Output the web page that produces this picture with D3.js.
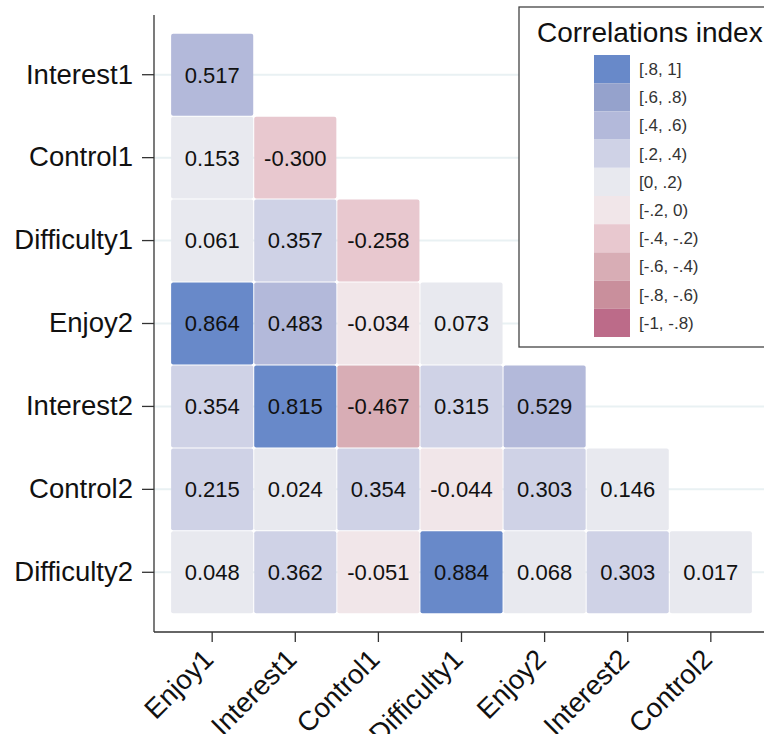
<!DOCTYPE html>
<html>
<head>
<meta charset="utf-8">
<script src="https://cdn.jsdelivr.net/npm/d3@7.9.0/dist/d3.min.js"></script>
<style>
  body { margin: 0; background: #fff; }
  svg { display: block; font-family: "Liberation Sans", Arial, sans-serif; }
</style>
</head>
<body>
<div id="chart"></div>
<script>
// variables on each axis
const rowNames = ["Interest1", "Control1", "Difficulty1", "Enjoy2", "Interest2", "Control2", "Difficulty2"];
const colNames = ["Enjoy1", "Interest1", "Control1", "Difficulty1", "Enjoy2", "Interest2", "Control2"];

// lower triangle, one list per row
const rowValues = [
  [0.517],
  [0.153, -0.300],
  [0.061, 0.357, -0.258],
  [0.864, 0.483, -0.034, 0.073],
  [0.354, 0.815, -0.467, 0.315, 0.529],
  [0.215, 0.024, 0.354, -0.044, 0.303, 0.146],
  [0.048, 0.362, -0.051, 0.884, 0.068, 0.303, 0.017]
];

// legend bins, top to bottom
const binLabels = ["[.8, 1]", "[.6, .8)", "[.4, .6)", "[.2, .4)", "[0, .2)",
                   "[-.2, 0)", "[-.4, -.2)", "[-.6, -.4)", "[-.8, -.6)", "[-1, -.8)"];
const binEdges = [-0.8, -0.6, -0.4, -0.2, 0, 0.2, 0.4, 0.6, 0.8];
const binColors = ["#bc6b89", "#c98f9c", "#d8adb5", "#e8c8cf", "#f1e6e9",
                   "#e8e9ef", "#cfd2e6", "#b3b9da", "#95a2cc", "#6889c9"];

const W = 764, H = 734;
const plotL = 154, plotT = 15, plotB = 632, plotR = 769;

const svg = d3.select("#chart").append("svg")
  .attr("width", W)
  .attr("height", H);

const x = d3.scaleBand()
  .domain(colNames.map((d, i) => i))
  .range([plotL, plotR])
  .paddingOuter(0.2)
  .paddingInner(0);

const y = d3.scaleBand()
  .domain(rowNames.map((d, i) => i))
  .range([plotT, plotB])
  .paddingOuter(0.22)
  .paddingInner(0);

const color = d3.scaleThreshold()
  .domain(binEdges)
  .range(binColors);

// flatten the triangle
const cells = [];
rowValues.forEach((vals, r) => {
  vals.forEach((v, c) => cells.push({ r, c, v }));
});

// faint horizontal gridlines
svg.append("g")
  .selectAll("line")
  .data(rowNames)
  .join("line")
    .attr("x1", plotL)
    .attr("x2", W)
    .attr("y1", (d, i) => y(i) + y.bandwidth() / 2)
    .attr("y2", (d, i) => y(i) + y.bandwidth() / 2)
    .attr("stroke", "#e9f1f3")
    .attr("stroke-width", 2);

// heatmap cells
const cellG = svg.append("g");
cellG.selectAll("rect")
  .data(cells)
  .join("rect")
    .attr("x", d => x(d.c) + 0.5)
    .attr("y", d => y(d.r) + 0.5)
    .attr("width", x.bandwidth() - 1)
    .attr("height", y.bandwidth() - 1)
    .attr("rx", 2)
    .attr("fill", d => color(d.v));

cellG.selectAll("text")
  .data(cells)
  .join("text")
    .attr("x", d => x(d.c) + x.bandwidth() / 2)
    .attr("y", d => y(d.r) + y.bandwidth() / 2)
    .attr("dy", "0.36em")
    .attr("text-anchor", "middle")
    .style("font-size", "22px")
    .attr("fill", "#111")
    .text(d => d.v.toFixed(3));

// axes
const yAxis = svg.append("g")
  .attr("transform", `translate(${plotL},0)`)
  .call(d3.axisLeft(y).tickFormat(i => rowNames[i]).tickSize(12).tickPadding(9));
yAxis.select(".domain").attr("d", `M0,${plotT}V${plotB}`).attr("stroke", "#333").attr("stroke-width", 1.3);
yAxis.selectAll(".tick line").attr("stroke", "#333").attr("stroke-width", 1.3);
yAxis.selectAll(".tick text")
  .style("font-size", "27.5px")
  .style("font-family", "'Liberation Sans', Arial, sans-serif")
  .attr("fill", "#111");

const xAxis = svg.append("g")
  .attr("transform", `translate(0,${plotB})`)
  .call(d3.axisBottom(x).tickFormat(i => colNames[i]).tickSize(10));
xAxis.select(".domain").attr("d", `M${plotL},0H${W}`).attr("stroke", "#333").attr("stroke-width", 1.3);
xAxis.selectAll(".tick line").attr("stroke", "#333").attr("stroke-width", 1.3);
xAxis.selectAll(".tick text")
  .style("font-size", "27.5px")
  .style("font-family", "'Liberation Sans', Arial, sans-serif")
  .attr("fill", "#111")
  .attr("text-anchor", "end")
  .attr("dy", null)
  .attr("y", 0)
  .attr("transform", "translate(3,29) rotate(-45)");

// legend
const legend = svg.append("g").attr("transform", "translate(519,7)");
legend.append("rect")
  .attr("width", 260)
  .attr("height", 340)
  .attr("fill", "#fff")
  .attr("stroke", "#444")
  .attr("stroke-width", 1.3);

legend.append("text")
  .attr("x", 18)
  .attr("y", 35)
  .style("font-size", "28px")
  .attr("fill", "#111")
  .text("Correlations index");

const sw = d3.scaleBand()
  .domain(binLabels)
  .range([48, 330]);

const item = legend.selectAll(".item")
  .data(binLabels)
  .join("g")
    .attr("class", "item")
    .attr("transform", d => `translate(0,${sw(d)})`);

item.append("rect")
  .attr("x", 75)
  .attr("width", 36)
  .attr("height", sw.bandwidth())
  .attr("fill", (d, i) => binColors[binColors.length - 1 - i]);

item.append("text")
  .attr("x", 120)
  .attr("y", sw.bandwidth() / 2)
  .attr("dy", "0.35em")
  .style("font-size", "17px")
  .attr("fill", "#333")
  .text(d => d);
</script>
</body>
</html>
